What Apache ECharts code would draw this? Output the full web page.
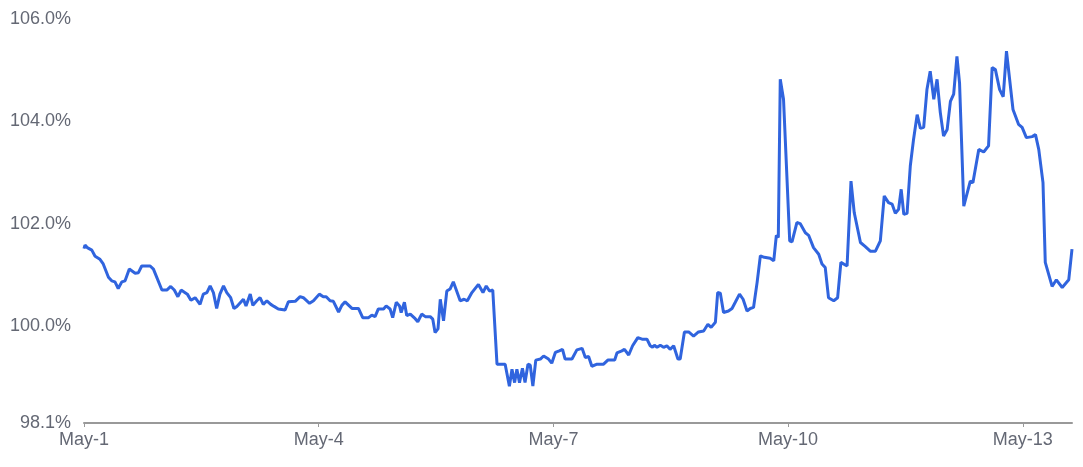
<!DOCTYPE html>
<html lang="en">
	<head>
		<meta charset="UTF-8" />
		<meta name="viewport" content="width=device-width, initial-scale=1.0" />
		<title>Ratio</title>
		<script src="https://cdn.jsdelivr.net/npm/echarts@6/dist/echarts.min.js"></script>
		<style>
			* {
				margin: 0;
				padding: 0;
			}
			html,
			body {
				height: 100%;
				background: #fff;
			}
		</style>
	</head>
	<body>
		<div id="main" style="height:100%;width:100%;"></div>

		<script type="text/javascript">
			// hours since May-1 00:00
			var hours = [
				0, 0.3, 1.0, 2.4, 3.4, 4.9, 5.9, 7.5, 8.5, 9.5, 10.5, 11.6, 12.6, 13.9, 15.7, 16.7, 17.7, 20.3, 21.3, 23.9,
				25.4, 26.6, 27.7, 28.8, 29.8, 31.7, 32.8, 34.1, 35.6, 36.6, 37.7, 38.7, 39.7, 40.7, 41.7, 42.8, 43.8, 45.0, 46.0, 46.9,
				48.9, 49.7, 51.0, 51.8, 53.0, 54.0, 55.0, 56.1, 57.3, 58.3, 59.6, 61.7, 62.7, 64.8, 66.3, 67.3, 69.2, 70.4, 70.9, 72.2,
				73.4, 74.3, 75.5, 76.5, 78.1, 79.1, 80.1, 82.2, 84.2, 85.5, 87.3, 88.3, 89.3, 90.3, 91.9, 92.7, 93.9, 94.7, 95.8, 96.8,
				97.3, 98.3, 99.0, 100.1, 101.6, 102.4, 103.6, 104.7, 106.2, 107.0, 107.7, 108.6, 109.3, 110.3, 111.3, 112.3, 113.3, 115.4, 116.6, 117.6,
				119.0, 121.0, 122.4, 123.4, 124.4, 125.4, 126.7, 129.2, 129.7, 130.5, 131.3, 132.1, 132.8, 133.6, 134.5, 135.3, 136.2, 136.9, 137.7, 138.6,
				140.0, 141.0, 142.5, 143.5, 144.6, 145.8, 146.8, 147.6, 149.7, 151.2, 152.8, 153.8, 154.8, 155.8, 157.4, 159.4, 160.7, 162.8, 163.5, 165.0,
				165.8, 167.1, 168.3, 169.9, 171.2, 172.7, 173.7, 174.4, 175.0, 175.8, 176.8, 177.8, 178.8, 179.8, 180.9, 182.2, 182.9, 184.2, 185.5, 187.0,
				188.5, 190.1, 191.4, 192.4, 193.7, 194.4, 195.2, 196.2, 197.7, 198.8, 199.8, 201.1, 202.2, 203.4, 204.4, 205.4, 206.5, 207.5, 208.7, 210.5,
				211.6, 212.4, 213.0, 213.6, 214.6, 216.5, 217.2, 218.7, 219.7, 221.3, 222.3, 223.8, 225.4, 226.4, 227.4, 228.4, 230.0, 231.2, 232.2, 234.1,
				235.3, 236.3, 238.2, 239.7, 241.2, 242.8, 244.3, 245.5, 246.8, 247.9, 248.9, 249.9, 250.7, 251.5, 252.5, 253.5, 254.5, 255.6, 256.6, 257.6,
				258.6, 259.6, 260.7, 261.7, 262.7, 263.7, 264.8, 265.8, 266.8, 267.8, 268.6, 269.9, 271.9, 272.7, 274.5, 276.0, 277.5, 278.6, 279.6, 280.9,
				282.0, 283.0, 285.0, 286.7, 287.8, 289.1, 290.9, 291.9, 292.9, 294.2, 294.9, 297.0, 298.3, 300.1, 302.1, 303.1
			];
			// value in percent
			var ratio = [
				101.51, 101.58, 101.53, 101.48, 101.36, 101.30, 101.21, 100.95, 100.88, 100.86, 100.73, 100.86, 100.88, 101.11, 101.03, 101.04, 101.17, 101.17, 101.11, 100.70,
				100.70, 100.77, 100.70, 100.57, 100.70, 100.62, 100.50, 100.55, 100.42, 100.62, 100.65, 100.78, 100.65, 100.34, 100.62, 100.78, 100.65, 100.55, 100.34, 100.38,
				100.52, 100.39, 100.62, 100.40, 100.49, 100.55, 100.42, 100.49, 100.42, 100.38, 100.33, 100.31, 100.47, 100.48, 100.57, 100.55, 100.44, 100.49, 100.49, 100.62,
				100.57, 100.57, 100.49, 100.48, 100.27, 100.40, 100.47, 100.34, 100.34, 100.16, 100.16, 100.21, 100.18, 100.33, 100.33, 100.39, 100.33, 100.16, 100.46, 100.39,
				100.26, 100.46, 100.20, 100.23, 100.14, 100.08, 100.23, 100.18, 100.18, 100.13, 99.87, 99.94, 100.52, 100.10, 100.68, 100.72, 100.86, 100.49, 100.52, 100.49,
				100.65, 100.81, 100.65, 100.78, 100.68, 100.70, 99.25, 99.25, 99.23, 98.82, 99.15, 98.89, 99.15, 98.89, 99.17, 98.89, 99.25, 99.23, 98.82, 99.33,
				99.35, 99.41, 99.35, 99.27, 99.48, 99.51, 99.54, 99.35, 99.35, 99.53, 99.56, 99.38, 99.40, 99.21, 99.25, 99.25, 99.33, 99.33, 99.47, 99.51,
				99.54, 99.43, 99.61, 99.77, 99.74, 99.74, 99.61, 99.58, 99.62, 99.58, 99.62, 99.58, 99.61, 99.54, 99.61, 99.35, 99.35, 99.88, 99.88, 99.80,
				99.88, 99.90, 100.03, 99.97, 100.07, 100.65, 100.64, 100.26, 100.29, 100.34, 100.46, 100.62, 100.52, 100.29, 100.34, 100.36, 100.85, 101.37, 101.34, 101.32,
				101.27, 101.77, 101.73, 104.82, 104.43, 101.66, 101.64, 102.02, 102.00, 101.82, 101.77, 101.53, 101.40, 101.21, 101.14, 100.55, 100.49, 100.55, 101.24, 101.17,
				102.83, 102.21, 101.63, 101.55, 101.46, 101.46, 101.66, 102.54, 102.41, 102.38, 102.20, 102.28, 102.67, 102.18, 102.20, 103.13, 103.65, 104.13, 103.86, 103.88,
				104.62, 104.98, 104.43, 104.82, 104.17, 103.71, 103.84, 104.39, 104.53, 105.27, 104.75, 102.34, 102.83, 102.80, 103.45, 103.40, 103.52, 105.05, 105.01, 104.62,
				104.48, 105.37, 104.23, 103.94, 103.88, 103.68, 103.70, 103.74, 103.45, 102.80, 101.24, 100.77, 100.90, 100.75, 100.90, 101.50
			];
			var xTicks = [0, 72, 144, 216, 288]; // May-1, May-4, May-7, May-10, May-13
			var yTicks = [98.1, 100, 102, 104, 106];

			var seriesData = [];
			for (var i = 0; i < hours.length; i++) {
				seriesData.push([hours[i], ratio[i]]);
			}

			var labelFont = {
				color: "#646874",
				fontSize: 18,
				fontFamily: "Liberation Sans"
			};

			var option = {
				animation: false,
				grid: {
					top: 19,
					bottom: 44,
					left: 84,
					right: 11
				},
				xAxis: {
					type: "value",
					min: 0,
					max: hours[hours.length - 1],
					splitLine: { show: false },
					axisLine: {
						lineStyle: { color: "#999", width: 2 }
					},
					axisTick: {
						customValues: xTicks,
						length: 4,
						lineStyle: { color: "#999", width: 1 }
					},
					axisLabel: Object.assign({}, labelFont, {
						customValues: xTicks,
						margin: 8,
						formatter: function(v) {
							return "May-" + (v / 24 + 1);
						}
					})
				},
				yAxis: {
					type: "value",
					min: 98.1,
					max: 106,
					splitLine: { show: false },
					axisLine: { show: false },
					axisTick: { show: false },
					axisLabel: Object.assign({}, labelFont, {
						customValues: yTicks,
						margin: 13,
						formatter: function(v) {
							return v.toFixed(1) + "%";
						}
					})
				},
				series: [
					{
						type: "line",
						symbol: "none",
						data: seriesData,
						lineStyle: {
							color: "#3064de",
							width: 3
						}
					}
				]
			};

			var myChart = echarts.init(document.getElementById("main"));
			myChart.setOption(option);
		</script>
	</body>
</html>
